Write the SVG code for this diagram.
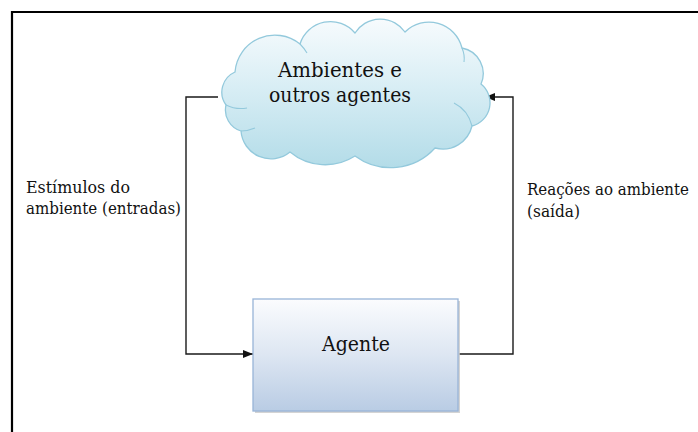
<svg xmlns="http://www.w3.org/2000/svg" width="698" height="432" viewBox="0 0 698 432">
  <defs>
    <linearGradient id="cloudFill" x1="0" y1="0" x2="0" y2="1">
      <stop offset="0" stop-color="#f7fbfd"/>
      <stop offset="0.45" stop-color="#d9eef5"/>
      <stop offset="1" stop-color="#b3dce8"/>
    </linearGradient>
    <linearGradient id="boxFill" x1="0" y1="0" x2="0" y2="1">
      <stop offset="0" stop-color="#fbfcfe"/>
      <stop offset="0.5" stop-color="#dde6f2"/>
      <stop offset="1" stop-color="#b9cce4"/>
    </linearGradient>
    <marker id="arrow" viewBox="0 0 10 10" refX="10" refY="5" markerWidth="10" markerHeight="10" markerUnits="userSpaceOnUse" orient="auto">
      <path d="M0,1 L10,5 L0,9 Z" fill="#111"/>
    </marker>
    <style>
      .frame { fill: none; stroke: #000; stroke-width: 2.2; }
      .link { fill: none; stroke: #1a1a1a; stroke-width: 1.4; }
      text { font-family: "DejaVu Serif", serif; fill: #111; }
      .title { font-size: 21px; text-anchor: middle; }
      .label { font-size: 17px; }
      .cloud { fill: url(#cloudFill); stroke: #93c9dc; stroke-width: 1.3; }
      .inner { fill: none; stroke: #93c9dc; stroke-width: 1.1; }
      .box { fill: url(#boxFill); stroke: #98b4d8; stroke-width: 1.3; }
    </style>
  </defs>

  <rect width="698" height="432" fill="#fff"/>
  <!-- outer frame, open to the right and bottom -->
  <path class="frame" d="M12,432 V12 H698"/>

  <g id="links">
    <!-- environment -> agent (inputs) -->
    <path class="link" d="M218,97 H186 V354 H253" marker-end="url(#arrow)"/>
    <!-- agent -> environment (outputs) -->
    <path class="link" d="M459,354 H513 V97 H485" marker-end="url(#arrow)"/>
  </g>

  <g id="environment">
    <path class="cloud" d="M235,72
      A40,40 0 0 1 300,44
      A32,32 0 0 1 355,33
      A30,30 0 0 1 405,32
      A34,34 0 0 1 462,48
      A26,26 0 0 1 481,84
      A24,24 0 0 1 472,126
      A30,30 0 0 1 435,148
      A60,60 0 0 1 355,156
      A55,55 0 0 1 290,152
      A30,30 0 0 1 241,131
      A22,22 0 0 1 226,105
      A22,22 0 0 1 235,72 Z"/>
    <path class="inner" d="M226,105 Q236,110 247,108"/>
    <path class="inner" d="M472,126 Q468,110 454,103"/>
    <path class="inner" d="M462,48 Q465,55 464,62"/>
    <path class="inner" d="M300,44 Q304,48 307,53"/>
    <path class="inner" d="M241,131 Q248,131 255,128"/>
    <text class="title" x="340" y="77" textLength="124" lengthAdjust="spacingAndGlyphs">Ambientes e</text>
    <text class="title" x="340" y="102" textLength="142" lengthAdjust="spacingAndGlyphs">outros agentes</text>
  </g>

  <g id="agent">
    <rect x="255" y="301" width="205" height="112" fill="#c9c9c9" opacity="0.8"/>
    <rect class="box" x="253" y="299" width="205" height="112"/>
    <text class="title" x="356" y="351" textLength="68" lengthAdjust="spacingAndGlyphs">Agente</text>
  </g>

  <g id="input-label">
    <text class="label" x="26" y="193" textLength="104" lengthAdjust="spacingAndGlyphs">Estímulos do</text>
    <text class="label" x="26" y="214" textLength="155" lengthAdjust="spacingAndGlyphs">ambiente (entradas)</text>
  </g>

  <g id="output-label">
    <text class="label" x="527" y="195" textLength="162" lengthAdjust="spacingAndGlyphs">Reações ao ambiente</text>
    <text class="label" x="527" y="217" textLength="53" lengthAdjust="spacingAndGlyphs">(saída)</text>
  </g>
</svg>
